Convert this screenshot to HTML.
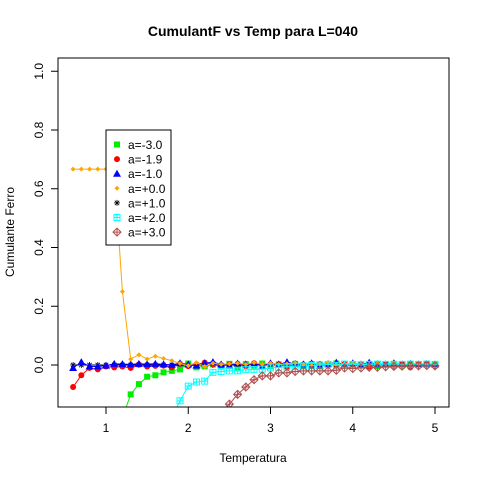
<!DOCTYPE html>
<html><head><meta charset="utf-8">
<style>
html,body{margin:0;padding:0;background:#fff;width:480px;height:480px;overflow:hidden;}
svg{display:block;font-family:"Liberation Sans",sans-serif;overflow:hidden;}
</style></head>
<body>
<svg id="chart" width="480" height="480" viewBox="0 0 480 480">
<rect width="480" height="480" fill="#fff"/>
<text x="253" y="36" text-anchor="middle" font-size="14" font-weight="bold">CumulantF vs Temp para L=040</text>
<text x="253" y="462" text-anchor="middle" font-size="12">Temperatura</text>
<text transform="translate(14,232) rotate(-90)" text-anchor="middle" font-size="12">Cumulante Ferro</text>
<defs><clipPath id="pc"><rect x="58" y="58" width="391" height="349"/></clipPath></defs>
<g id="axes"></g>
<g id="series" clip-path="url(#pc)"></g>
<rect x="58" y="58" width="391" height="349" fill="none" stroke="#000"/>
<g id="legend"></g>
</svg>
<script>
const temps = [];
for (let i = 0; i < 45; i++) temps.push(+(0.6 + i * 0.1).toFixed(1));
const xTicks = [1, 2, 3, 4, 5];
const yTicks = [0.0, 0.2, 0.4, 0.6, 0.8, 1.0];
const yTickLabels = ["0.0", "0.2", "0.4", "0.6", "0.8", "1.0"];
const labels = ["a=-3.0","a=-1.9","a=-1.0","a=+0.0","a=+1.0","a=+2.0","a=+3.0"];
const sGreen = [-0.6,-0.55,-0.5,-0.45,-0.35,-0.28,-0.18,-0.1,-0.065,-0.04,-0.035,-0.025,-0.02,-0.015,0.005,-0.008,-0.005,0.002,
 -0.005,0.004,-0.008,0.003,-0.002,0.005,-0.004,0.002,-0.003,0.004,-0.002,0.003,-0.004,0.002,0.005,-0.003,0.002,-0.002,0.003,-0.004,0.002,0.004,-0.002,0.003,0.002,0.004,0.002];
const sRed = [-0.075,-0.035,-0.01,-0.015,-0.005,-0.008,-0.005,-0.01,0.002,-0.005,-0.003,-0.002,-0.008,0.004,-0.004,0.002,0.008,0.002,
 -0.003,0.002,0.004,-0.004,0.006,-0.002,0.003,0.002,-0.006,0.004,0.002,-0.003,0.004,-0.002,0.002,0.003,-0.004,0.002,-0.006,0.003,0.002,-0.003,0.004,-0.008,0.002,0.004,-0.004];
const sBlue = [-0.01,0.01,-0.005,-0.005,-0.002,0.004,0.003,0.002,0.004,0.003,0.004,0.002,0.001,0.006,0.002,-0.002,0.006,0.01,
 0.002,-0.002,0.005,0.002,0.004,-0.003,0.006,0.002,0.01,0.004,0.002,0.006,-0.002,0.004,0.008,0.002,0.006,0.002,0.008,0.003,0.002,0.006,0.002,0.004,0.002,0.003,0.002];
const sOrange = [0.667,0.667,0.667,0.667,0.667,0.667,0.25,0.02,0.035,0.02,0.03,0.022,0.015,0.005,-0.002,0.008,-0.005,0.006,
 0.002,0.004,0.006,0.002,0.008,0.003,0.006,0.002,0.004,0.007,0.002,0.005,0.003,0.008,0.002,0.004,0.006,0.003,0.002,0.005,0.003,0.006,0.002,0.004,0.005,0.003,0.004];
const sBlack = [0,0,0,0,0,0,0,0,0,0,0,0,0,0,0,0,0,0,0,0,0,0,0,0,0,0,0,0,0,0,0,0,0,0,0,0,0,0,0,0,0,0,0,0,0];
const sCyan = [-0.9,-0.85,-0.8,-0.75,-0.7,-0.65,-0.6,-0.5,-0.45,-0.4,-0.3,-0.25,-0.18,-0.122,-0.072,-0.058,-0.055,-0.025,
 -0.022,-0.02,-0.02,-0.016,-0.015,-0.014,-0.01,-0.008,-0.006,-0.004,-0.003,-0.002,0.0,0.002,-0.001,0.003,0.002,0.001,0.002,0.003,0.002,0.001,0.002,0.003,0.002,0.003,0.002];
const sBrown = [-1,-1,-1,-1,-1,-1,-1,-1,-1,-0.9,-0.8,-0.7,-0.6,-0.5,-0.4,-0.3,-0.25,-0.19,-0.16,-0.133,-0.1,-0.075,-0.05,-0.037,-0.037,-0.027,-0.027,-0.022,
 -0.02,-0.02,-0.02,-0.02,-0.018,-0.01,-0.012,-0.01,-0.008,-0.008,-0.006,-0.005,-0.004,-0.004,-0.003,-0.002,-0.003];
const series = [
 {d:sGreen,c:"#00ee00",m:"square"},
 {d:sRed,c:"#ff0000",m:"circle"},
 {d:sBlue,c:"#0000ff",m:"triangle"},
 {d:sOrange,c:"#ffa500",m:"dot"},
 {d:sBlack,c:"#000000",m:"star"},
 {d:sCyan,c:"#00ffff",m:"boxplus"},
 {d:sBrown,c:"#b05050",m:"diamondplus"}
];
const drawOrder = [4,0,1,2,3,5,6];
const xS = v => 106 + (v - 1) * 82.25;
const yS = v => 365 - v * 293.75;
const yD = v => Math.min(yS(v), 470);
const NS = "http://www.w3.org/2000/svg";
function mk(tag, attrs, parent) {
  const e = document.createElementNS(NS, tag);
  for (const k in attrs) e.setAttribute(k, attrs[k]);
  parent.appendChild(e); return e;
}
const axes = document.getElementById("axes");
mk("line",{x1:xS(1),x2:xS(5),y1:407,y2:407,stroke:"#000"},axes);
xTicks.forEach(t=>{
  const l = mk("line",{x1:xS(t),x2:xS(t),y1:407,y2:414,stroke:"#000"},axes);
  
  
  const tx = mk("text",{x:xS(t),y:432,"text-anchor":"middle","font-size":"12"},axes);
  tx.textContent = t;
  
  
});
mk("line",{x1:58,x2:58,y1:yS(0),y2:yS(1),stroke:"#000"},axes);
yTicks.forEach((t,i)=>{
  const l = mk("line",{x1:51,x2:58,y1:yS(t),y2:yS(t),stroke:"#000"},axes);
  
  
  const tx = mk("text",{transform:`translate(43,${yS(t)}) rotate(-90)`,"text-anchor":"middle","font-size":"12"},axes);
  tx.textContent = yTickLabels[i];
  
  
});
function marker(m, x, y, c, g) {
  if (m==="square") mk("rect",{x:x-3,y:y-3,width:6,height:6,fill:c},g);
  else if (m==="circle") mk("circle",{cx:x,cy:y,r:3,fill:c},g);
  else if (m==="triangle") mk("polygon",{points:`${x},${y-4} ${x-4},${y+3} ${x+4},${y+3}`,fill:c},g);
  else if (m==="dot") mk("polygon",{points:`${x},${y-2.5} ${x+2.5},${y} ${x},${y+2.5} ${x-2.5},${y}`,fill:c},g);
  else if (m==="star") {
    mk("path",{d:`M${x-3},${y}H${x+3}M${x},${y-3}V${y+3}M${x-2.2},${y-2.2}L${x+2.2},${y+2.2}M${x-2.2},${y+2.2}L${x+2.2},${y-2.2}`,stroke:c,fill:"none","stroke-width":0.8},g);
  } else if (m==="boxplus") {
    mk("rect",{x:x-3,y:y-3,width:6,height:6,fill:"none",stroke:c},g);
    mk("path",{d:`M${x-3},${y}H${x+3}M${x},${y-3}V${y+3}`,stroke:c},g);
  } else if (m==="diamondplus") {
    mk("polygon",{points:`${x},${y-4} ${x+4},${y} ${x},${y+4} ${x-4},${y}`,fill:"none",stroke:c},g);
    mk("path",{d:`M${x-4},${y}H${x+4}M${x},${y-4}V${y+4}`,stroke:c},g);
  }
}
const sg = document.getElementById("series");
drawOrder.forEach(si=>{
  const s = series[si];
  const g = mk("g",{},sg);
  
  
  const pts = s.d.map((v,i)=>`${xS(temps[i]).toFixed(1)},${yD(v).toFixed(1)}`).join(" ");
  mk("polyline",{points:pts,fill:"none",stroke:s.c,"stroke-width":1},g);
  s.d.forEach((v,i)=>marker(s.m,xS(temps[i]),yD(v),s.c,g));
});
const lg = document.getElementById("legend");
const lr = mk("rect",{x:106,y:130,width:65,height:115,fill:"#fff",stroke:"#000"},lg);


series.forEach((s,i)=>{
  const y = 144.5 + i*14.6;
  const g = mk("g",{},lg);
  
  
  marker(s.m,117,y,s.c,g);
  const t = mk("text",{x:128,y:y+4.5,"font-size":"12"},g);
  t.textContent = labels[i];
});
</script>
</body></html>
